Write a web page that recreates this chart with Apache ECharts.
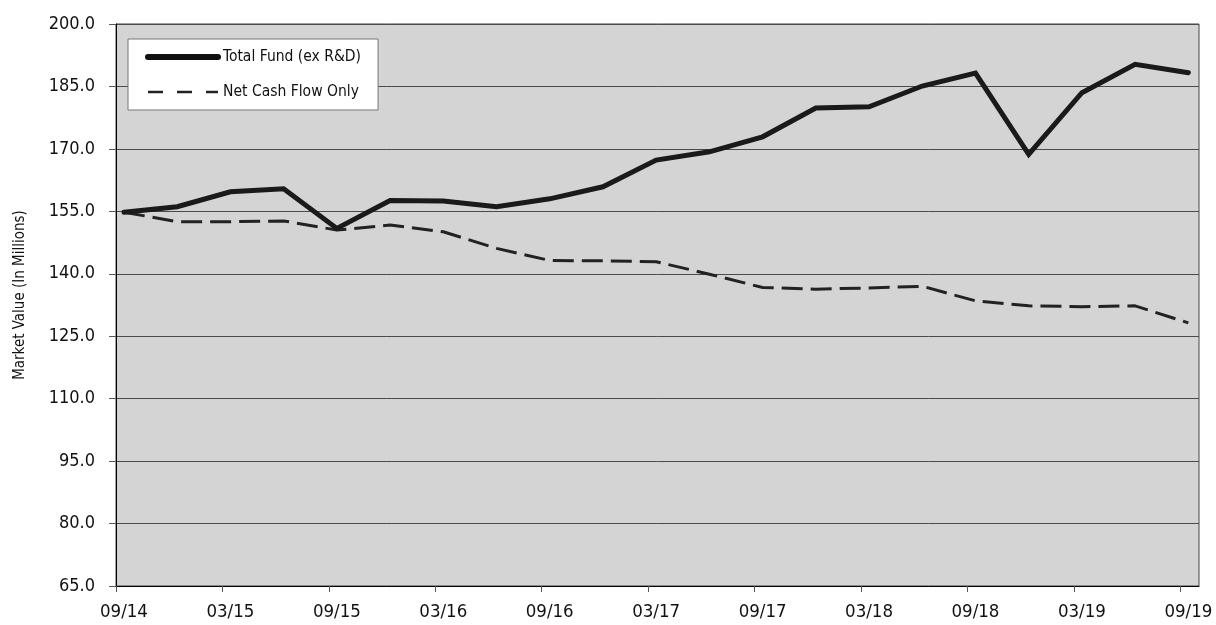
<!DOCTYPE html>
<html>
<head>
<meta charset="utf-8">
<script src="https://cdn.jsdelivr.net/npm/echarts@6/dist/echarts.min.js"></script>
<style>
html,body{margin:0;padding:0;background:#fff;}
#chart{width:1216px;height:625px;}
</style>
</head>
<body>
<div id="chart"></div>
<script>
// Quarter-end dates (labels shown every other quarter)
const quarters = ['09/14','12/14','03/15','06/15','09/15','12/15','03/16','06/16','09/16','12/16',
  '03/17','06/17','09/17','12/17','03/18','06/18','09/18','12/18','03/19','06/19','09/19'];
const totalFund = [154.8,156.1,159.7,160.4,150.9,157.6,157.5,156.1,158.0,160.9,
  167.3,169.3,172.9,179.8,180.1,185.1,188.2,168.7,183.5,190.3,188.3];
const netCashFlow = [154.8,152.5,152.5,152.7,150.5,151.7,150.1,146.1,143.2,143.1,
  142.9,139.9,136.7,136.3,136.6,137.0,133.5,132.3,132.1,132.3,128.2];
const yTicks = {min: 65, max: 200, step: 15};

const FONT = "'DejaVu Sans Condensed','Liberation Sans Narrow','Arial Narrow',sans-serif";
const tickShift = -0.15; // ticks sit slightly left of the labelled points
const labelIdx = quarters.map((q, i) => i).filter(i => i % 2 === 0);

const chart = echarts.init(document.getElementById('chart'));
chart.setOption({
  animation: false,
  backgroundColor: '#ffffff',
  grid: {
    left: 116, right: 17, top: 24, bottom: 39,
    outerBoundsMode: 'none',
    containLabel: false,
    show: true, backgroundColor: '#d4d4d4', borderColor: '#444', borderWidth: 1
  },
  legend: {
    left: 128, top: 39,
    orient: 'vertical',
    backgroundColor: '#ffffff', borderColor: '#777', borderWidth: 1,
    padding: [10, 17, 10, 17],
    itemWidth: 70, itemHeight: 18, itemGap: 19,
    itemStyle: {color: 'rgba(0,0,0,0)', borderColor: 'rgba(0,0,0,0)', borderWidth: 0, opacity: 0},
    textStyle: {fontFamily: FONT, fontSize: 15.5, color: '#111'},
    data: [
      {name: 'Total Fund (ex R&D)', lineStyle: {width: 6, type: 'solid', cap: 'round', color: '#111'}},
      {name: 'Net Cash Flow Only', lineStyle: {width: 2.5, type: [15, 14], color: '#222'}}
    ]
  },
  xAxis: {
    type: 'value',
    min: tickShift,
    max: 20.2,
    axisLine: {show: true, onZero: false, lineStyle: {color: '#000', width: 1}},
    axisTick: {show: true, length: 6, lineStyle: {color: '#555'},
      customValues: labelIdx.map(i => i + tickShift)},
    axisLabel: {
      customValues: labelIdx,
      formatter: v => quarters[Math.round(v)],
      fontFamily: FONT, fontSize: 18.5, color: '#111', margin: 17
    },
    splitLine: {show: false}
  },
  yAxis: {
    type: 'value',
    min: yTicks.min, max: yTicks.max, interval: yTicks.step,
    name: 'Market Value (In Millions)',
    nameLocation: 'middle',
    nameRotate: 90,
    nameGap: 88,
    nameTextStyle: {fontFamily: FONT, fontSize: 15, color: '#111', padding: [0, 0, 0, 20]},
    axisLine: {show: true, onZero: false, lineStyle: {color: '#000', width: 1}},
    axisTick: {show: true, length: 7, lineStyle: {color: '#555'}},
    axisLabel: {formatter: v => v.toFixed(1), fontFamily: FONT, fontSize: 18, color: '#111', margin: 21},
    splitLine: {show: true, lineStyle: {color: '#4a4a4a', width: 1}}
  },
  series: [
    {
      name: 'Total Fund (ex R&D)',
      type: 'line',
      data: totalFund.map((v, i) => [i, v]),
      symbol: 'none',
      z: 3,
      lineStyle: {width: 5, color: '#1a1a1a', cap: 'round', join: 'miter'},
      itemStyle: {color: '#1a1a1a'}
    },
    {
      name: 'Net Cash Flow Only',
      type: 'line',
      data: netCashFlow.map((v, i) => [i, v]),
      symbol: 'none',
      z: 2,
      lineStyle: {width: 3, color: '#222', type: [21, 8]},
      itemStyle: {color: '#222'}
    }
  ]
});
</script>
</body>
</html>
